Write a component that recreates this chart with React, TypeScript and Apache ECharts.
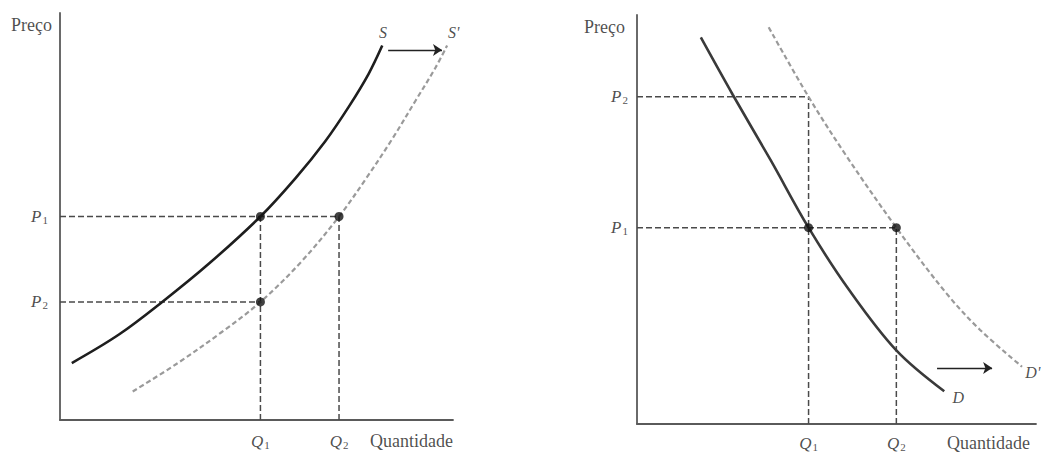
import React, { useEffect, useRef } from "react";
import * as echarts from "echarts";

// ---- Left panel (supply shift) ----
const supplyS: number[][] = [[3, 14], [15, 21], [26, 29], [38, 38.5], [51, 50], [60, 59.5], [67.5, 68.5], [73.5, 77], [78.5, 85], [82, 92]];
const supplySPrime: number[][] = [[18.5, 7], [30, 14], [41, 21.5], [51, 29], [61.5, 39], [71, 50], [78, 59.5], [84.5, 69], [90.5, 78.5], [95.5, 86.5], [98.5, 92]];
const leftP1 = 50;
const leftP2 = 29;
const leftQ1 = 51;
const leftQ2 = 71;

// ---- Right panel (demand shift) ----
const demandD: number[][] = [[16, 94.5], [24, 80.5], [33.5, 64.5], [43, 48], [53, 33], [65, 18], [77, 8]];
const demandDPrime: number[][] = [[33, 97], [43, 80], [52.5, 65.5], [65, 48], [77.5, 32], [86, 23], [96.5, 14]];
const rightP1 = 48;
const rightP2 = 80;
const rightQ1 = 43;
const rightQ2 = 65;

const FONT = "'Liberation Serif', 'DejaVu Serif', serif";
const TXT = "#1e1e1e";

const richPQ = {
  i: { fontStyle: "italic", fontSize: 17, fontFamily: FONT, color: TXT, lineHeight: 18, verticalAlign: "middle" },
  s: { fontSize: 11, fontFamily: FONT, color: TXT, lineHeight: 11, verticalAlign: "bottom", padding: [0, 0, 0, 1] },
};

function textPt(idx: number, pt: number[], formatter: string, label: any) {
  return {
    type: "scatter",
    xAxisIndex: idx,
    yAxisIndex: idx,
    data: [pt],
    symbolSize: 0,
    clip: false,
    silent: true,
    label: {
      show: true,
      formatter,
      fontFamily: FONT,
      color: TXT,
      fontSize: 18,
      rich: richPQ,
      ...label,
    },
    z: 10,
  };
}

function guide(idx: number, pts: number[][]) {
  return {
    type: "line",
    xAxisIndex: idx,
    yAxisIndex: idx,
    data: pts,
    symbol: "none",
    silent: true,
    lineStyle: { color: "#4a4a4a", width: 1.5, type: [6, 3] },
    z: 2,
  };
}

function dots(idx: number, pts: number[][]) {
  return {
    type: "scatter",
    xAxisIndex: idx,
    yAxisIndex: idx,
    data: pts,
    symbolSize: 9,
    silent: true,
    itemStyle: { color: "#111" },
    z: 6,
  };
}

function arrow(from: number[], to: number[]) {
  return {
    silent: true,
    symbol: ["none", "arrow"],
    symbolSize: 9,
    label: { show: false },
    lineStyle: { color: "#222", width: 1.3, type: "solid" },
    data: [[{ coord: from }, { coord: to }]],
  };
}

function curve(idx: number, data: number[][], lineStyle: any, z: number, extra: any = {}) {
  return {
    type: "line",
    xAxisIndex: idx,
    yAxisIndex: idx,
    data,
    smooth: 0.35,
    symbol: "none",
    silent: true,
    lineStyle,
    z,
    ...extra,
  };
}

const axisCommon = {
  type: "value",
  min: 0,
  max: 100,
  axisLine: { show: true, onZero: false, lineStyle: { color: "#5a5a5a", width: 1.8 } },
  axisTick: { show: false },
  axisLabel: { show: false },
  splitLine: { show: false },
};

export default function App() {
  const ref = useRef<HTMLDivElement>(null);
  useEffect(() => {
    if (!ref.current) return;
    const chart = echarts.init(ref.current, null, { renderer: "svg" });
    const shifted = { color: "#9a9a9a", width: 2.2, type: [5, 3] };
    const option: any = {
      animation: false,
      backgroundColor: "#ffffff",
      grid: [
        { left: 60, top: 13, width: 393, height: 407 },
        { left: 637, top: 15, width: 399, height: 409 },
      ],
      xAxis: [
        { ...axisCommon, gridIndex: 0 },
        { ...axisCommon, gridIndex: 1 },
      ],
      yAxis: [
        { ...axisCommon, gridIndex: 0 },
        { ...axisCommon, gridIndex: 1 },
      ],
      series: [
        // left guides
        guide(0, [[0, leftP1], [leftQ2, leftP1]]),
        guide(0, [[0, leftP2], [leftQ1, leftP2]]),
        guide(0, [[leftQ1, 0], [leftQ1, leftP1]]),
        guide(0, [[leftQ2, 0], [leftQ2, leftP1]]),
        // left curves
        curve(0, supplySPrime, shifted, 3, { markLine: arrow([83.5, 90.9], [97.2, 90.9]) }),
        curve(0, supplyS, { color: "#1e1e1e", width: 2.6 }, 4),
        dots(0, [[leftQ1, leftP1], [leftQ2, leftP1], [leftQ1, leftP2]]),
        // left texts
        textPt(0, [0, 97.1], "Preço", { position: "left", distance: 8 }),
        textPt(0, [0, leftP1], "{i|P}{s|1}", { position: "left", distance: 12 }),
        textPt(0, [0, leftP2], "{i|P}{s|2}", { position: "left", distance: 12 }),
        textPt(0, [leftQ1, 0], "{i|Q}{s|1}", { position: "bottom", distance: 12 }),
        textPt(0, [leftQ2, 0], "{i|Q}{s|2}", { position: "bottom", distance: 12 }),
        textPt(0, [100, 0], "Quantidade", { position: "bottom", distance: 12, align: "right" }),
        textPt(0, [82.2, 95.3], "S", { position: "inside", fontStyle: "italic", fontSize: 16 }),
        textPt(0, [100.2, 95.3], "S'", { position: "inside", fontStyle: "italic", fontSize: 16 }),

        // right guides
        guide(1, [[0, rightP2], [rightQ1, rightP2]]),
        guide(1, [[0, rightP1], [rightQ2, rightP1]]),
        guide(1, [[rightQ1, 0], [rightQ1, rightP2]]),
        guide(1, [[rightQ2, 0], [rightQ2, rightP1]]),
        // right curves
        curve(1, demandDPrime, shifted, 3, { markLine: arrow([75.2, 13.7], [89, 13.7]) }),
        curve(1, demandD, { color: "#3a3a3a", width: 2.6 }, 4),
        dots(1, [[rightQ1, rightP1], [rightQ2, rightP1]]),
        // right texts
        textPt(1, [0, 97.1], "Preço", { position: "left", distance: 12 }),
        textPt(1, [0, rightP2], "{i|P}{s|2}", { position: "left", distance: 9 }),
        textPt(1, [0, rightP1], "{i|P}{s|1}", { position: "left", distance: 9 }),
        textPt(1, [rightQ1, 0], "{i|Q}{s|1}", { position: "bottom", distance: 10 }),
        textPt(1, [rightQ2, 0], "{i|Q}{s|2}", { position: "bottom", distance: 10 }),
        textPt(1, [77.7, 0], "Quantidade", { position: "bottom", distance: 10, align: "left" }),
        textPt(1, [80.5, 6.6], "D", { position: "inside", fontStyle: "italic", fontSize: 16 }),
        textPt(1, [99.2, 12.5], "D'", { position: "inside", fontStyle: "italic", fontSize: 16 }),
      ],
    };
    chart.setOption(option);
    return () => chart.dispose();
  }, []);
  return (
    <div
      ref={ref}
      style={{ position: "fixed", left: 0, top: 0, width: 1041, height: 454, background: "#fff" }}
    />
  );
}
